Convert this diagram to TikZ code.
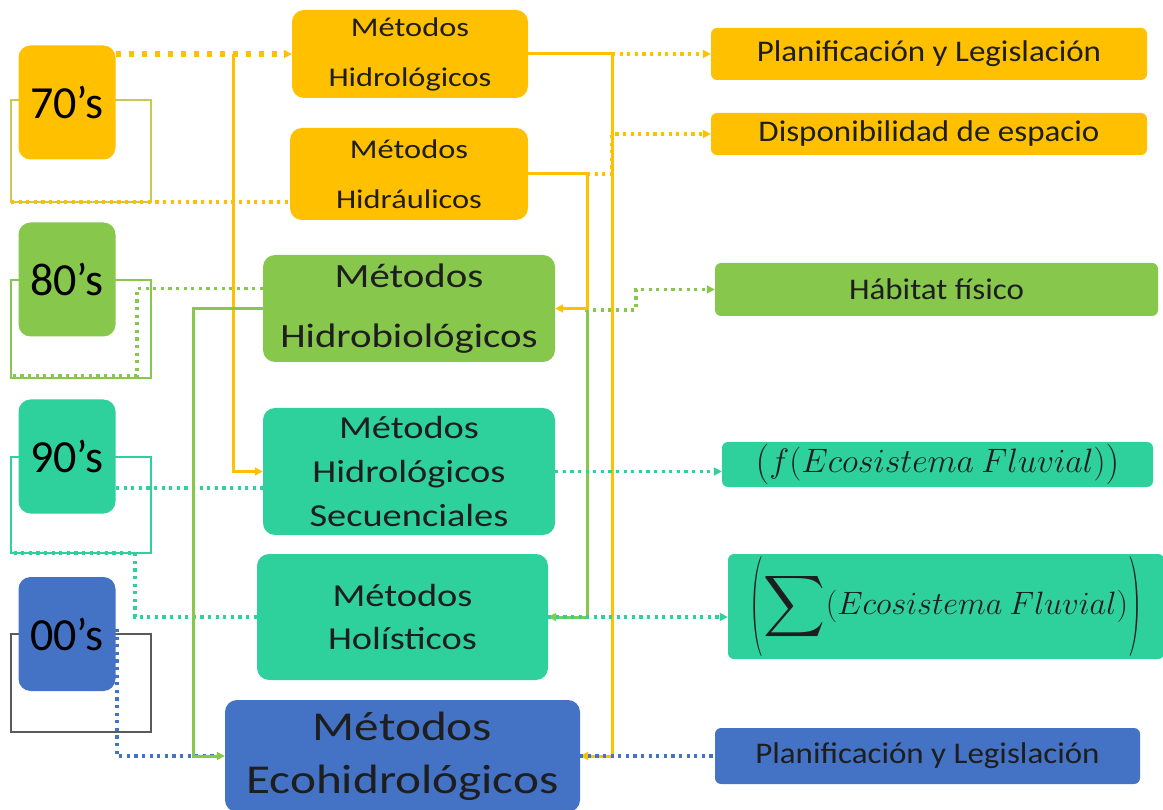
\documentclass[tikz,border=0pt]{standalone}
\usepackage{fontspec}
\setmainfont{Carlito}
\newfontfamily\mfont[FakeStretch=1.2]{Carlito}
\newfontfamily\rfont[FakeStretch=1.1]{Carlito}
\usetikzlibrary{arrows.meta,calc}
\pgfdeclarelayer{bg}
\pgfsetlayers{bg,main}
\definecolor{cOr}{RGB}{255,192,0}
\definecolor{cGr}{RGB}{134,199,76}
\definecolor{cTe}{RGB}{46,208,156}
\definecolor{cBl}{RGB}{68,114,196}
\definecolor{cTx}{RGB}{30,30,30}
\definecolor{cBrY}{RGB}{200,200,90}
\definecolor{cGy}{RGB}{90,90,90}
\newcommand{\bigsum}{\vcenter{\hbox{\scalebox{3.3}{$\displaystyle\sum$}}}}
\newcommand{\tallpar}[2]{\vcenter{\hbox{\scalebox{1.15}[#1]{$#2$}}}}
\begin{document}
\begin{tikzpicture}[x=1pt,y=-1pt,
  decbox/.style={rounded corners=12pt, inner sep=0pt, minimum width=97, minimum height=114, text=black, font={\fontsize{46}{50}\selectfont}},
  metbox/.style={rounded corners=12pt, inner sep=0pt, align=center, text=cTx},
  resbox/.style={rounded corners=6pt, inner sep=0pt, align=center, text=cTx, font={\rfont\fontsize{30}{36}\selectfont}},
  solidln/.style={line width=3pt},
  thinln/.style={line width=1.5pt},
  dotln/.style={line width=3.2pt, dash pattern=on 3.2pt off 4.4pt},
  bigdot/.style={line width=5.5pt, dash pattern=on 5.5pt off 7.5pt},
  arr/.style={-{Triangle[length=8pt,width=8pt]}}]
\useasboundingbox (0,0) rectangle (1163,810);
% decade boxes
\node[decbox, fill=cOr] (d70) at (67,102.5) {70’s};
\node[decbox, fill=cGr] (d80) at (67,279.5) {80’s};
\node[decbox, fill=cTe] (d90) at (67,456.5) {90’s};
\node[decbox, fill=cBl] (d00) at (67,634) {00’s};
% method boxes
\node[metbox, fill=cOr, minimum width=236, minimum height=88, font={\mfont\fontsize{27}{50}\selectfont}] (m1) at (410,54) {Métodos\\Hidrológicos};
\node[metbox, fill=cOr, minimum width=238, minimum height=92, font={\mfont\fontsize{27}{50}\selectfont}] (m2) at (409,174) {Métodos\\Hidráulicos};
\node[metbox, fill=cGr, minimum width=292, minimum height=107, font={\mfont\fontsize{34}{60}\selectfont}] (m3) at (409,308.5) {Métodos\\Hidrobiológicos};
\node[metbox, fill=cTe, minimum width=292, minimum height=127, font={\mfont\fontsize{32}{44}\selectfont}] (m4) at (409,471.5) {Métodos\\Hidrológicos\\Secuenciales};
\node[metbox, fill=cTe, minimum width=291, minimum height=126, font={\mfont\fontsize{32}{43}\selectfont}] (m5) at (402.5,617) {Métodos\\Holísticos};
\node[metbox, fill=cBl, minimum width=355, minimum height=112, font={\mfont\fontsize{41}{53}\selectfont}] (m6) at (402.5,756) {Métodos\\Ecohidrológicos};
% result boxes
\node[resbox, fill=cOr, minimum width=436, minimum height=52] (r1) at (929,54) {Planificación y Legislación};
\node[resbox, fill=cOr, minimum width=436, minimum height=42] (r2) at (929,134) {Disponibilidad de espacio};
\node[resbox, fill=cGr, minimum width=443, minimum height=53] (r3) at (936.5,289.5) {Hábitat físico};
\node[resbox, fill=cTe, minimum width=431, minimum height=45, font={\fontsize{24}{28}\selectfont}] (r4) at (937.5,464.5) {\scalebox{1.36}{$\tallpar{1.2}{(}f(Ecosistema\ Fluvial)\tallpar{1.2}{)}$}};
\node[resbox, fill=cTe, minimum width=436, minimum height=105, font={\fontsize{24}{28}\selectfont}] (r5) at (946,606.5) {\scalebox{1.3}{$\tallpar{3.1}{(}\bigsum(Ecosistema\ Fluvial)\tallpar{3.1}{)}$}};
\node[resbox, fill=cBl, minimum width=425, minimum height=56] (r6) at (927.5,756) {Planificación y Legislación};
% bend points
\coordinate (v1) at (233,54);
\coordinate (b70a) at (11,100); \coordinate (b70b) at (151,202);
\coordinate (b80a) at (11,280); \coordinate (b80b) at (151,378);
\coordinate (b90a) at (11,457); \coordinate (b90b) at (151,553);
\coordinate (b00a) at (11,634); \coordinate (b00b) at (151,732);
\coordinate (g80) at (137,376);
\coordinate (t90) at (116,488);
\coordinate (t90b) at (135,553);
\coordinate (b00s) at (117,629);
\coordinate (gv) at (193,308.5);
\coordinate (o1) at (612,54);
\coordinate (o2) at (587,174);
\coordinate (o3) at (612,174);
\coordinate (o4) at (612,134);
\coordinate (gr) at (587,308.5);
\coordinate (gd1) at (636,310);
\coordinate (gd2) at (636,289.5);
\begin{pgfonlayer}{bg}
\fill[white] (0,0) rectangle (1163,810);
% brackets
\draw[thinln, cBrY] (b70a) rectangle (b70b);
\draw[thinln, cGr] (b80a) rectangle (b80b);
\draw[thinln, cTe] (b90a) rectangle (b90b);
\draw[thinln, cGy] (b00a) rectangle (b00b);
% left side dotted
\draw[bigdot, cOr, arr] (d70.east |- m1.west) -- (m1.west);
\draw[dotln, cOr] (b70a |- b70b) -- (m2.west |- b70b);
\draw[dotln, cGr] ($(m3.west)+(0,-20)$) -| (g80) -- (b80a |- g80);
\draw[dotln, cTe] (t90) -- (t90 -| m4.west);
\draw[dotln, cTe] (m5.west) -| (t90b) -- (b90a |- t90b);
\draw[dotln, cBl] (b00s) |- (m6.west);
% left side solid
\draw[solidln, cOr, arr] (v1) |- (m4.west);
\draw[solidln, cGr, arr] (m3.west) -- (gv) |- (m6.west);
% right side
\draw[solidln, cGr, arr] (gr) |- (m5.east);
\draw[dotln, cGr, arr] (gr) -- (gr |- gd1) -- (gd1) -- (gd2) -- (r3.west);
\draw[solidln, cOr] (m1.east) -- (o1);
\draw[solidln, cOr, arr] (o1) |- (m6.east);
\draw[dotln, cOr, arr] (o1) -- (r1.west);
\draw[solidln, cOr, arr] (m2.east) -- (o2) |- (m3.east);
\draw[dotln, cOr, arr] (o2) -- (o3) -- (o4) -- (r2.west);
\draw[dotln, cTe, arr] (m4.east) -- (m4.east -| r4.west);
\draw[dotln, cTe, arr] (m5.east) -- (m5.east -| r5.west);
\draw[dotln, cBl] (m6.east) -- (r6.west);
\end{pgfonlayer}
\end{tikzpicture}
\end{document}
